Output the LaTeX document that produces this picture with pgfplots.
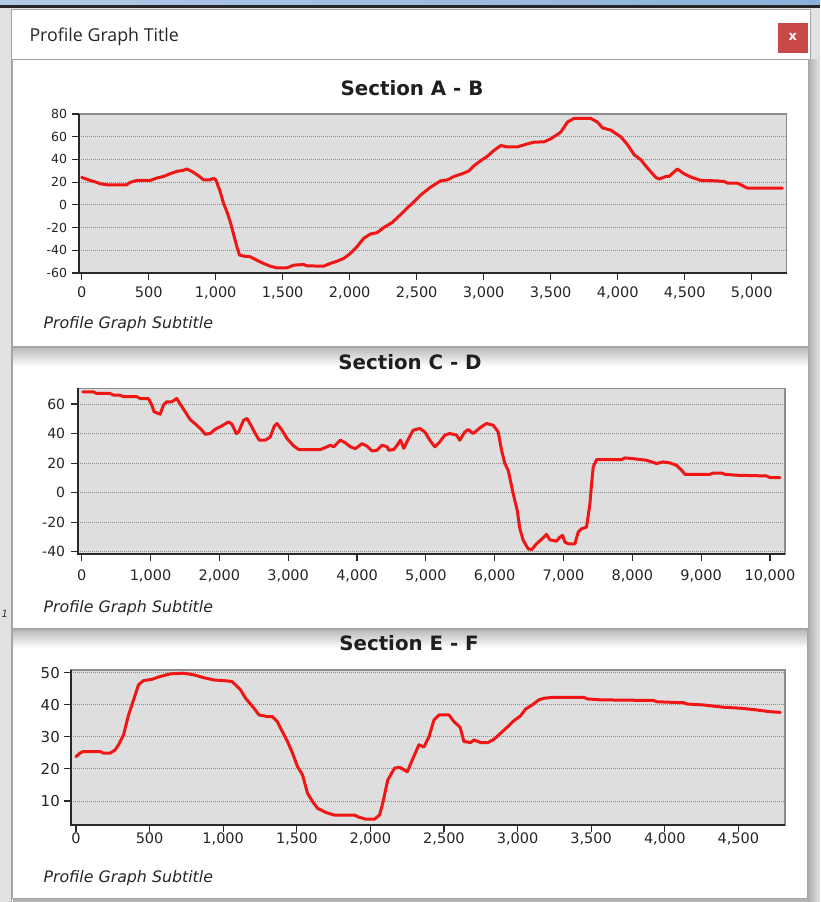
\documentclass[border=0pt]{standalone}
\usepackage{pgfplots}
\pgfplotsset{compat=1.18}
\usepackage{fontspec}
\setmainfont{DejaVu Sans}
\newfontfamily\uifont{Open Sans}
\newfontfamily\tickfont{DejaVu Sans}

\definecolor{plotbg}{RGB}{222,222,222}
\definecolor{gridgray}{RGB}{140,140,140}
\definecolor{framegray}{RGB}{140,140,140}
\definecolor{framedark}{RGB}{40,40,40}
\definecolor{profred}{RGB}{240,22,22}
\definecolor{chromegray}{RGB}{226,226,226}
\definecolor{panelline}{RGB}{165,165,165}
\definecolor{closered}{RGB}{201,72,72}
\definecolor{skyA}{RGB}{178,202,230}
\definecolor{skyB}{RGB}{140,176,218}

% elevation profiles: distance along the section vs. elevation
\pgfplotstableread{
x y
0 24.2
50 22
112 19.8
137 18.6
187 17.7
336 17.7
361 19.8
411 21.5
510 21.5
560 23.6
610 25
660 27.4
710 29.5
759 30.4
784 31.6
822 29.5
871 25.7
909 22
959 22
984 23.3
1001 22
1033 11.8
1058 1.5
1088 -7.4
1113 -16.8
1138 -28
1158 -36.9
1178 -44.2
1208 -45.1
1257 -45.7
1307 -48.7
1357 -51.6
1407 -54
1457 -55.5
1531 -55.5
1581 -53.1
1656 -52.5
1681 -53.7
1805 -54
1855 -51.6
1905 -49.6
1955 -47.2
2004 -42.8
2054 -36.9
2104 -29.5
2154 -25.7
2204 -24.5
2254 -20
2316 -15.6
2378 -8.8
2440 -1.5
2470 1.5
2530 8.8
2604 15.6
2679 21.2
2729 22
2779 25
2853 28
2891 30
2928 34.5
2978 38.9
3027 42.8
3077 48
3127 52.2
3177 51
3251 51
3326 53.7
3376 55.2
3450 55.5
3500 58.1
3575 64
3625 72.9
3674 76.1
3799 76.1
3848 72.9
3886 67.8
3948 65.8
4023 59.9
4072 53.1
4122 44.2
4172 39.8
4222 32.4
4284 24.2
4309 22.7
4359 25
4383 25
4445 31.6
4495 27.4
4545 24.5
4620 21.5
4719 21.2
4794 20.6
4819 19.2
4893 19.2
4968 14.7
5229 14.7
}\sectionAB

\pgfplotstableread{
x y
15 68.2
170 68.2
218 67.1
412 67.1
461 66
558 66
606 64.9
800 64.9
849 63.7
970 63.7
1019 59.2
1052 54.7
1140 53.1
1188 59.2
1237 61.5
1310 61.5
1382 63.7
1431 59.9
1504 54.7
1576 49.5
1673 45.6
1746 42.3
1795 39.5
1867 40
1940 42.9
2037 45.2
2134 47.9
2183 46.3
2246 40
2280 41.1
2352 49
2401 50.2
2459 45.6
2522 40
2580 35.5
2668 35.5
2740 37.7
2798 45
2837 46.8
2910 42.3
2983 36.6
3080 31.6
3153 29.2
3468 29.2
3540 30.5
3613 32.1
3662 31
3759 35.5
3832 33.7
3904 31
3977 29.8
4074 33.2
4147 31.4
4220 28.2
4292 28.7
4365 32.1
4438 31
4462 28.7
4535 29.2
4583 32.1
4632 35.5
4680 30
4743 36
4816 42.3
4913 43.4
4985 41.1
5058 35.5
5131 31
5203 34.4
5276 38.9
5349 40
5446 38.9
5494 35.5
5567 41.1
5615 42.7
5688 40
5785 43.8
5882 46.8
5979 45.6
6051 41.1
6100 28.7
6148 19.7
6197 15.1
6269 -0.7
6328 -12
6366 -24.4
6415 -32.3
6487 -38
6536 -38.6
6608 -34.6
6705 -30.5
6754 -28.2
6802 -31.9
6899 -32.8
6938 -30.5
6986 -28.9
7020 -33.4
7069 -34.6
7166 -34.6
7214 -26.7
7263 -24.4
7335 -23.3
7384 -7.5
7408 6.1
7432 17.4
7481 22.4
7844 22.4
7892 23.5
8014 23
8207 21.9
8353 19.7
8450 20.8
8547 20.1
8643 18.5
8716 15.1
8765 12.4
9128 12.4
9176 13.3
9297 13.3
9346 12.4
9515 11.8
9952 11.3
10000 10.2
10145 10.2
}\sectionCD

\pgfplotstableread{
x y
0 23.8
27 24.9
50 25.4
164 25.4
186 24.9
232 24.9
266 25.9
289 27.5
323 30.6
357 36.8
391 41.5
425 46.2
459 47.5
516 47.9
573 48.8
641 49.6
732 49.8
800 49.3
868 48.4
936 47.7
1027 47.4
1061 47.2
1096 45.6
1118 44.6
1152 42
1209 38.9
1243 36.8
1300 36.3
1334 36.3
1368 34.7
1402 31.6
1437 28.5
1471 24.9
1505 20.7
1539 18.1
1573 12.4
1607 9.8
1641 7.7
1698 6.4
1755 5.6
1891 5.6
1925 4.9
1971 4.3
2028 4.3
2062 5.6
2084 9.3
2118 16.5
2164 20.2
2198 20.5
2251 19.1
2285 22.8
2330 27.5
2364 26.8
2398 30
2432 35.2
2466 36.8
2534 36.8
2568 34.7
2609 33
2636 28.5
2681 28.2
2704 29
2749 28.2
2799 28.2
2839 29.2
2885 31.1
2930 33
2975 35
3020 36.5
3054 38.6
3099 39.9
3145 41.5
3179 42
3246 42.3
3450 42.3
3473 41.8
3563 41.5
3925 41.3
3948 40.9
4129 40.6
4151 40.2
4264 39.9
4400 39.2
4513 38.9
4615 38.4
4717 37.8
4785 37.6
}\sectionEF

\pgfplotsset{
  profile/.style={
    scale only axis,
    anchor=south west,
    axis background/.style={fill=plotbg},
    axis line style={draw=framegray, line width=1.2pt},
    tick align=outside,
    xtick pos=left, ytick pos=left,
    major tick length=7pt,
    tick style={draw=framedark, line width=1.2pt},
    ymajorgrids,
    major grid style={draw=gridgray, line width=0.8pt, dash pattern=on 0.9pt off 1.1pt},
    scaled x ticks=false, scaled y ticks=false,
    /pgf/number format/1000 sep={,},
    /pgf/number format/assume math mode=true,
    xticklabel style={font=\tickfont\fontsize{14.5}{16}\selectfont, text=black!85, anchor=base},
    yticklabel style={text=black!85, anchor=east, inner sep=0pt},
  },
  profline/.style={profred, line width=3pt, line join=round, line cap=round, no marks},
}

\newcommand\darkframe[1]{%
  \draw[framedark, line width=2pt] (#1.north west) -- (#1.south west) -- (#1.south east);}

\begin{document}
\begin{tikzpicture}
\begin{scope}[x=1pt,y=1pt]
  \useasboundingbox (0,0) rectangle (820,-902);
  % desktop behind the dialog
  \fill[chromegray] (0,0) rectangle (820,-902);
  \shade[left color=skyA, right color=skyB] (0,0) rectangle (820,-4.5);
  \fill[black!85] (0,-4.5) rectangle (820,-7.5);
  \node[anchor=base west, inner sep=0pt, font=\itshape\fontsize{10}{11}\selectfont, text=black!80] at (1.5,-617) {1};
  % dialog body
  \fill[white] (11.7,-9) rectangle (810,-902);
  \draw[panelline, line width=1pt] (11.7,-902) -- (11.7,-9) -- (810,-9) -- (810,-902);
  % close button and caption
  \fill[closered] (777.7,-22.7) rectangle (807.7,-52.7);
  \node[text=white, font=\bfseries\fontsize{13}{13}\selectfont] at (792.7,-36.5) {x};
  \node[anchor=base west, font=\uifont\fontsize{17.8}{20}\selectfont, text=black!85] at (26,-41.7) {Profile Graph Title};
  % shadow on the right of the panels
  \shade[left color=black!32, right color=black!10] (808,-59) rectangle (820,-902);
  % three chart panels
  \fill[white] (12.5,-59.3) rectangle (808,-346);
  \fill[white] (12.5,-347) rectangle (808,-628);
  \fill[white] (12.5,-629) rectangle (807,-898);
  \shade[top color=black!28, bottom color=white] (12.5,-347) rectangle (808,-366);
  \shade[top color=black!28, bottom color=white] (12.5,-629) rectangle (807,-648);
  \fill[black!30] (12.5,-898) rectangle (808,-902);
  \draw[panelline, line width=1pt] (12.5,-346) -- (12.5,-59.3) -- (808,-59.3) -- (808,-346) -- cycle;
  \draw[panelline, line width=1pt] (12.5,-628) -- (12.5,-347) -- (808,-347) -- (808,-628) -- cycle;
  \draw[panelline, line width=1pt] (12.5,-898) -- (12.5,-629) -- (807,-629) -- (807,-898) -- cycle;
  % panel titles and subtitles
  \node[anchor=base, font=\bfseries\fontsize{19.8}{22}\selectfont, text=black!88] at (412,-95) {Section A - B};
  \node[anchor=base, font=\bfseries\fontsize{19.8}{22}\selectfont, text=black!88] at (410,-369) {Section C - D};
  \node[anchor=base, font=\bfseries\fontsize{19.8}{22}\selectfont, text=black!88] at (409,-650) {Section E - F};
  \node[anchor=base west, inner sep=0pt, font=\itshape\fontsize{15.8}{18}\selectfont, text=black!85] at (43.3,-328.5) {Profile Graph Subtitle};
  \node[anchor=base west, inner sep=0pt, font=\itshape\fontsize{15.8}{18}\selectfont, text=black!85] at (43.3,-612.5) {Profile Graph Subtitle};
  \node[anchor=base west, inner sep=0pt, font=\itshape\fontsize{15.8}{18}\selectfont, text=black!85] at (43.3,-882.5) {Profile Graph Subtitle};
\end{scope}

% Section A - B
\begin{axis}[profile, name=ab, at={(79.3pt,-273pt)},
  width=707.4pt, height=159pt,
  xmin=-18, xmax=5261, ymin=-60, ymax=80,
  xtick={0,500,...,5000}, ytick={-60,-40,...,80},
  xticklabel shift=17pt, yticklabel shift=5pt,
  yticklabel style={font=\tickfont\fontsize{12.5}{14}\selectfont}]
  \addplot[profline] table[x=x, y=y] {\sectionAB};
\end{axis}
\darkframe{ab}

% Section C - D
\begin{axis}[profile, name=cd, at={(78.3pt,-554pt)},
  width=706.7pt, height=165.7pt,
  xmin=-49, xmax=10218, ymin=-41.5, ymax=70.6,
  xtick={0,1000,...,10000}, ytick={-40,-20,...,60},
  xticklabel shift=19pt, yticklabel shift=6pt,
  yticklabel style={font=\tickfont\fontsize{14}{16}\selectfont}]
  \addplot[profline] table[x=x, y=y] {\sectionCD};
\end{axis}
\darkframe{cd}

% Section E - F
\begin{axis}[profile, name=ef, at={(71pt,-825pt)},
  width=714pt, height=155pt,
  xmin=-34, xmax=4817, ymin=2.5, ymax=50.8,
  xtick={0,500,...,4500}, ytick={10,20,...,50},
  xticklabel shift=11pt, yticklabel shift=4pt,
  yticklabel style={font=\tickfont\fontsize{15}{17}\selectfont}]
  \addplot[profline] table[x=x, y=y] {\sectionEF};
\end{axis}
\darkframe{ef}
\end{tikzpicture}
\end{document}
